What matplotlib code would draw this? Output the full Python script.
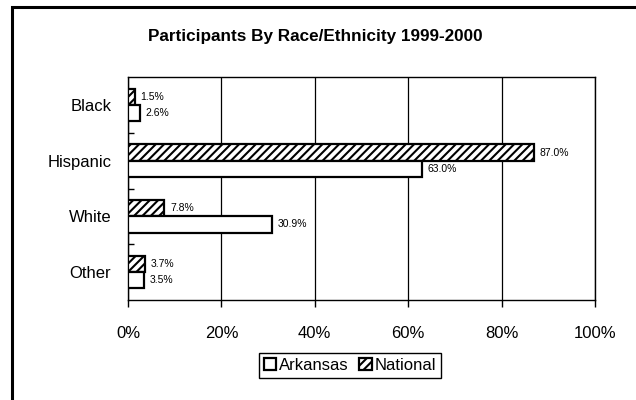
import numpy as np
import matplotlib.pyplot as plt
from matplotlib.patches import Rectangle
from matplotlib.ticker import PercentFormatter

# Datos
categorias = ['Black', 'Hispanic', 'White', 'Other']
arkansas = [2.6, 63.0, 30.9, 3.5]
national = [1.5, 87.0, 7.8, 3.7]

plt.rcParams['font.family'] = ['Liberation Sans', 'DejaVu Sans']
plt.rcParams['hatch.linewidth'] = 1.5

fig = plt.figure(figsize=(6.36, 4.0), dpi=100)
ax = fig.add_axes([128 / 636, 0.25, (595 - 128) / 636, (300 - 77) / 400])

# Marco exterior
fig.patches.append(Rectangle((12 / 636, -0.05), 1.1, 1 - 7 / 400 + 0.05,
                             transform=fig.transFigure, fill=False,
                             edgecolor='black', linewidth=2.2, zorder=0))

y = np.arange(len(categorias))
h = 0.29
bn = ax.barh(y - h / 2, national, height=h, color='white', edgecolor='black',
             hatch='////', linewidth=1.6, label='National', zorder=3)
ba = ax.barh(y + h / 2, arkansas, height=h, color='white', edgecolor='black',
             linewidth=1.6, label='Arkansas', zorder=3)

for barras, vals in [(bn, national), (ba, arkansas)]:
    for b, v in zip(barras, vals):
        ax.annotate(f'{v:.1f}%', (v, b.get_y() + b.get_height() / 2),
                    xytext=(4, 0), textcoords='offset points',
                    va='center', ha='left', fontsize=7.5)

ax.set_xlim(0, 100)
ax.set_ylim(3.5, -0.5)
ax.set_xticks(np.arange(0, 101, 20))
ax.xaxis.set_major_formatter(PercentFormatter(decimals=0))
ax.set_yticks(y)
ax.set_yticklabels(categorias)
ax.set_yticks(y[:-1] + 0.5, minor=True)
ax.tick_params(axis='y', which='major', length=0, pad=12, labelsize=12)
ax.tick_params(axis='y', which='minor', direction='in', length=4, width=1)
ax.tick_params(axis='x', direction='out', length=5, width=1, pad=14, labelsize=12)
ax.grid(axis='x', color='black', linewidth=0.9, zorder=0)
for s in ax.spines.values():
    s.set_linewidth(1.0)
    s.set_color('black')

fig.text(315 / 636, 1 - 37 / 400, 'Participants By Race/Ethnicity 1999-2000',
         ha='center', va='center', fontsize=12.3, fontweight='bold')

handles = [ba, bn]
leg = fig.legend(handles, ['Arkansas', 'National'], loc='center',
                 bbox_to_anchor=(350 / 636, 1 - 365.5 / 400), ncol=2,
                 fontsize=12, frameon=True, fancybox=False, edgecolor='black',
                 framealpha=1, handlelength=0.75, handleheight=0.75,
                 handletextpad=0.2, columnspacing=0.6, borderpad=0.3,
                 borderaxespad=0)
leg.get_frame().set_linewidth(1.0)

fig.savefig('out.png', dpi=100)
